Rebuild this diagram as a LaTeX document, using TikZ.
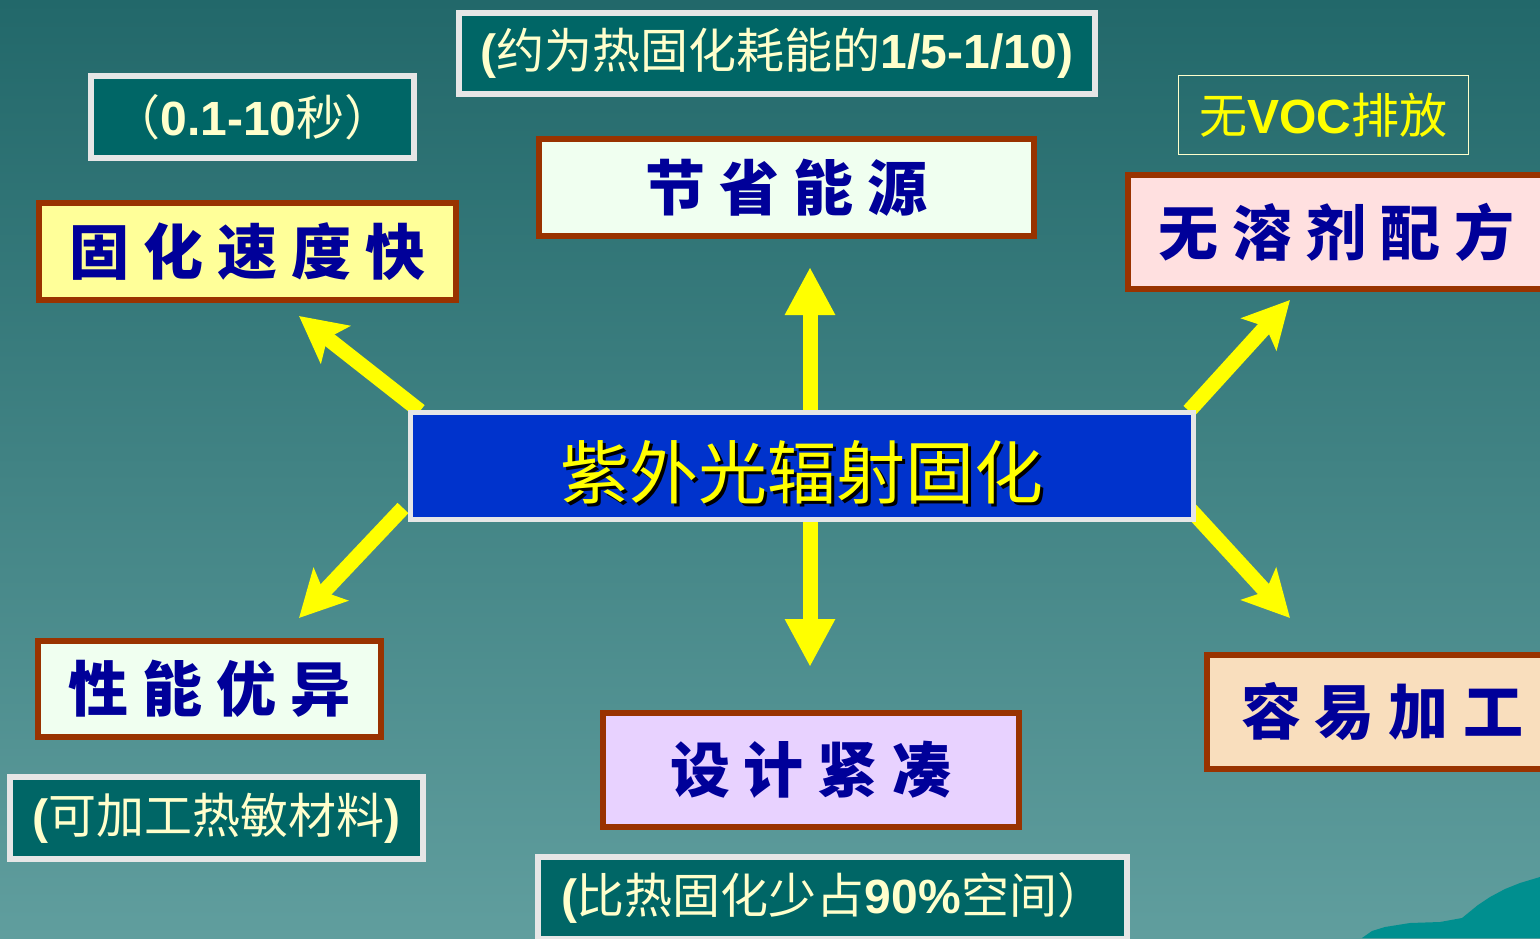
\documentclass[tikz,border=0pt]{standalone}
\usepackage{fontspec}
\setmainfont{Liberation Sans}
\newfontfamily\cjk{Noto Sans CJK SC}
\usetikzlibrary{arrows.meta}
\definecolor{bgtop}{RGB}{34,104,106}
\definecolor{bgbot}{RGB}{96,158,158}
\definecolor{mtn}{RGB}{0,143,143}
\definecolor{annbd}{RGB}{230,230,230}
\definecolor{anntl}{RGB}{0,102,102}
\definecolor{anncr}{RGB}{255,255,204}
\definecolor{brn}{RGB}{153,51,0}
\definecolor{hblue}{RGB}{0,0,153}
\definecolor{cblue}{RGB}{0,51,204}
\definecolor{fyel}{RGB}{255,255,153}
\definecolor{fmint}{RGB}{240,255,240}
\definecolor{fpink}{RGB}{255,224,224}
\definecolor{flav}{RGB}{232,210,255}
\definecolor{fpeach}{RGB}{249,222,189}
\definecolor{arrY}{RGB}{255,255,0}
\pgfdeclarelayer{bg}
\pgfdeclarelayer{arr}
\pgfsetlayers{bg,arr,main}
\newcommand\gp{\hspace{14pt}}
\begin{document}
\begin{tikzpicture}[x=1pt,y=-1pt,
  hd/.style={draw=brn, line width=6pt, inner sep=0pt, text=hblue,
    font=\cjk\bfseries\fontsize{60}{62}\selectfont},
  ann/.style={draw=annbd, line width=6pt, fill=anntl, inner sep=0pt, text=anncr,
    font=\fontsize{48}{52}\selectfont},
  hub/.style={draw=annbd, line width=5pt, fill=cblue, inner sep=0pt,
    minimum width=783pt, minimum height=107pt},
  hubtext/.style={inner sep=0pt, font=\cjk\fontsize{69}{72}\selectfont},
  yarr/.style={draw=arrY, line width=15pt},
  diag/.style={yarr, -{Stealth[length=46pt,width=47pt,inset=10pt]}},
  vert/.style={yarr, -{Triangle[length=48pt,width=47pt]}}
]
\useasboundingbox (0,0) rectangle (1540,938);
\begin{pgfonlayer}{bg}
  \shade[top color=bgtop, bottom color=bgbot] (0,0) rectangle (1540,938);
  \fill[mtn] (1362,938) -- (1372,931) -- (1385,927) -- (1410,923) -- (1440,922)
    -- (1462,918) -- (1478,905) -- (1490,897) -- (1505,889) -- (1520,883)
    -- (1540,877) -- (1540,938) -- cycle;
\end{pgfonlayer}

% central node
\node[hub] (c) at (802,466) {};
\node[hubtext, text=black] (cs) at (805,475) {紫外光辐射固化};
\node[hubtext, text=arrY] (ct) at (802,472) {紫外光辐射固化};

% heading boxes
\node[hd, fill=fyel, minimum width=417pt, minimum height=97pt] (gh) at (247.5,251.5)
  {固\gp 化\gp 速\gp 度\gp 快};
\node[hd, fill=fmint, minimum width=495pt, minimum height=97pt] (jn) at (786.5,187.5)
  {节\gp 省\gp 能\gp 源};
\node[hd, fill=fpink, minimum width=417pt, minimum height=114pt] (wr) at (1336.5,232)
  {无\gp 溶\gp 剂\gp 配\gp 方};
\node[hd, fill=fmint, minimum width=343pt, minimum height=96pt] (xn) at (209.5,689)
  {性\gp 能\gp 优\gp 异};
\node[hd, fill=flav, minimum width=416pt, minimum height=114pt] (sj) at (811,770)
  {设\gp 计\gp 紧\gp 凑};
\node[hd, fill=fpeach, minimum width=350pt, minimum height=114pt] (rj) at (1382,712)
  {容\gp 易\gp 加\gp 工};

% annotation boxes
\node[ann, minimum width=323pt, minimum height=82pt] (a1) at (252.5,117)
  {{\cjk （}{\bfseries 0.1-10}{\cjk 秒）}};
\node[ann, minimum width=636pt, minimum height=81pt] (a2) at (777,53.5)
  {{\bfseries (}{\cjk 约为热固化耗能的}{\bfseries 1/5-1/10)}};
\node[ann, minimum width=413pt, minimum height=82pt] (a3) at (216.5,818)
  {{\bfseries (}{\cjk 可加工热敏材料}{\bfseries )}};
\node[ann, minimum width=589pt, minimum height=82pt] (a4) at (832.5,898)
  {\makebox[583pt][l]{\hspace*{20pt}{\bfseries (}{\cjk 比热固化少占}{\bfseries 90\%}{\cjk 空间）}}};
\node[draw=anncr, line width=1.5pt, inner sep=0pt, minimum width=290pt, minimum height=79pt,
  text=arrY, font=\fontsize{48}{52}\selectfont] (a5) at (1323.5,115)
  {{\cjk 无}{\bfseries VOC}{\cjk 排放}};

% arrows
\coordinate (tUL) at (299,316);
\coordinate (tLL) at (299,618);
\coordinate (tUR) at (1290,300);
\coordinate (tLR) at (1290,618);
\coordinate (tU) at (810,267);
\coordinate (tD) at (810,667);
\begin{pgfonlayer}{arr}
  \draw[diag] ([shift={(12,1)}]c.north west) -- (tUL);
  \draw[diag] ([shift={(-5,-14)}]c.south west) -- (tLL);
  \draw[diag] ([shift={(-7,1)}]c.north east) -- (tUR);
  \draw[diag] ([shift={(-7,-14)}]c.south east) -- (tLR);
  \draw[vert] (c.north -| tU) -- (tU);
  \draw[vert] (c.south -| tD) -- (tD);
\end{pgfonlayer}
\end{tikzpicture}
\end{document}
